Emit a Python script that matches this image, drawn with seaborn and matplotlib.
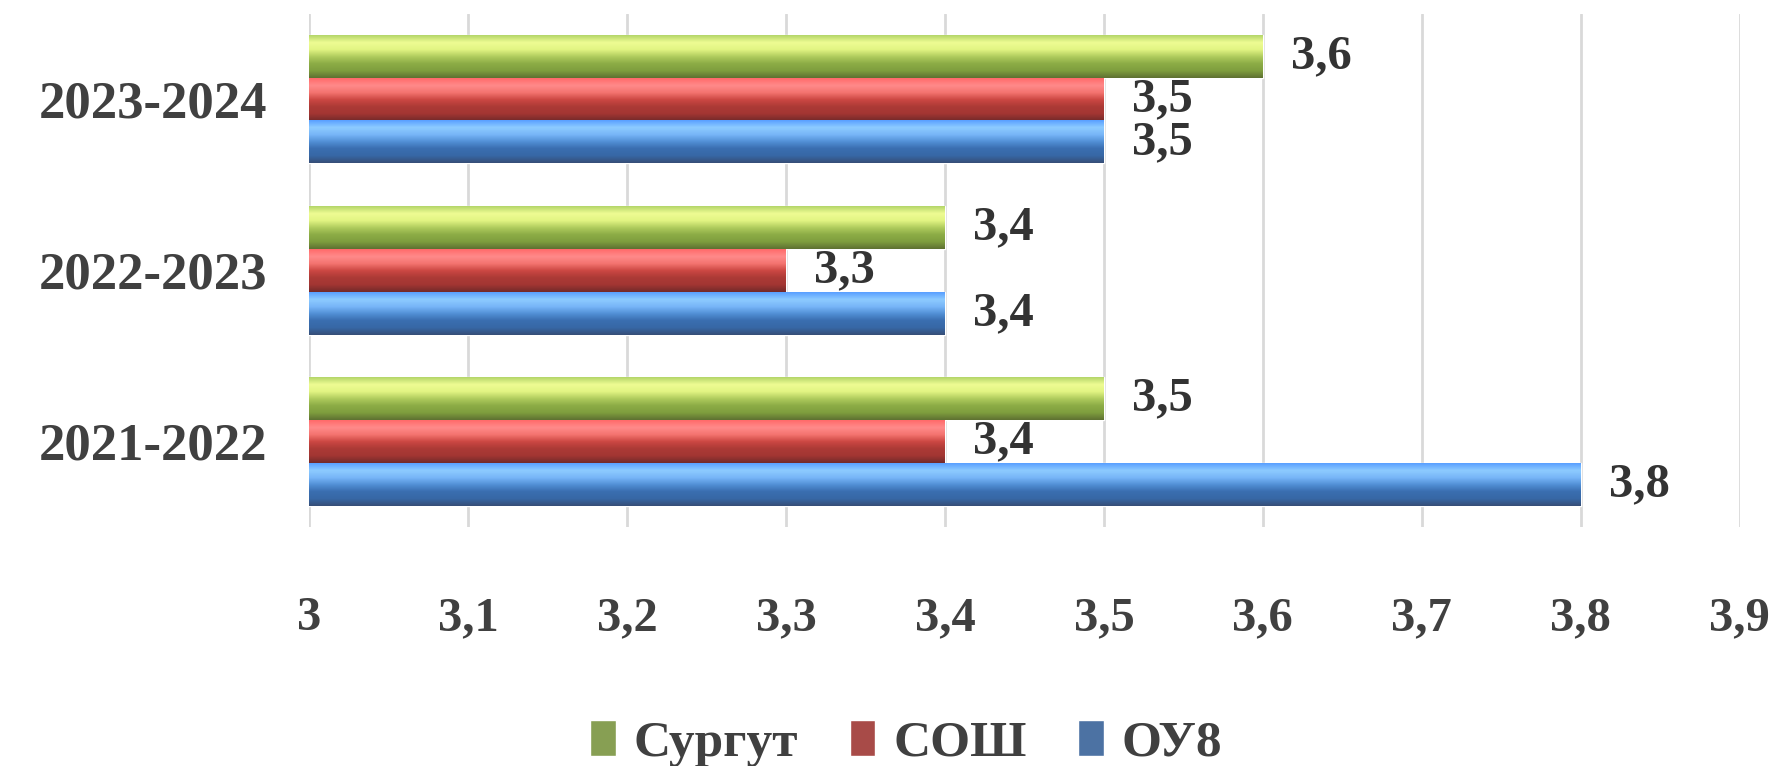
import numpy as np
import pandas as pd
import matplotlib
matplotlib.use("Agg")
import matplotlib.pyplot as plt
import seaborn as sns
from matplotlib.colors import LinearSegmentedColormap

# data
years = ["2023-2024", "2022-2023", "2021-2022"]
series = ["Сургут", "СОШ", "ОУ8"]
surgut = [3.6, 3.4, 3.5]
sosh = [3.5, 3.3, 3.4]
ou8 = [3.5, 3.4, 3.8]
x_ticks = [3.0, 3.1, 3.2, 3.3, 3.4, 3.5, 3.6, 3.7, 3.8, 3.9]
x_tick_labels = ["3", "3,1", "3,2", "3,3", "3,4", "3,5", "3,6", "3,7", "3,8", "3,9"]

palette = {"Сургут": "#8cac46", "СОШ": "#b83c38", "ОУ8": "#3d70b2"}
# top -> bottom shading of the glossy bars
shades = {
    "Сургут": ["#b5d66a", "#eefc93", "#e2f483", "#b0cc5e", "#8cac46", "#7f9e3e", "#5f7232"],
    "СОШ": ["#ff6b6b", "#ff8a8a", "#f47470", "#cc4843", "#ac3a36", "#a33633", "#742a2a"],
    "ОУ8": ["#5aa0ff", "#8dcbff", "#78b6f8", "#5290d6", "#3a6eb0", "#3768a6", "#364f78"],
}

df = pd.DataFrame({
    "year": years * 3,
    "series": [s for s in series for _ in years],
    "value": surgut + sosh + ou8,
})

sns.set_style("white")
plt.rcParams["font.family"] = ["Liberation Serif", "DejaVu Serif"]
plt.rcParams["font.weight"] = "bold"
text_col = "#404040"

fig = plt.figure(figsize=(17.77, 7.66), dpi=100)
ax = fig.add_axes([0.174, 0.312, 0.805, 0.67])

sns.barplot(data=df, x="value", y="year", hue="series", order=years,
            hue_order=series, palette=palette, orient="h", width=0.75,
            gap=0, ax=ax, legend=True, zorder=3)

ax.set_xlim(3.0, 3.9)
ax.set_ylim(2.5, -0.5)

# gradient fill for each bar (clipped to the axes box)
for container, name in zip(ax.containers, series):
    cmap = LinearSegmentedColormap.from_list(name, shades[name])
    grad = np.linspace(0, 1, 64).reshape(-1, 1)
    for patch in container:
        x0, y0 = patch.get_x(), patch.get_y()
        w, h = patch.get_width(), patch.get_height()
        ax.imshow(grad, cmap=cmap, aspect="auto", origin="upper",
                  extent=(x0, x0 + w, y0 + h, y0), zorder=4)
    # value labels
    labels = [f"{v:.1f}".replace(".", ",") for v in container.datavalues]
    ax.bar_label(container, labels=labels, padding=20, fontsize=35,
                 color="#333333", fontweight="bold", zorder=6)

ax.set_xlim(3.0, 3.9)
ax.set_ylim(2.5, -0.5)
ax.set_xticks(x_ticks)
ax.set_xticklabels(x_tick_labels, fontsize=35, color=text_col)
ax.tick_params(axis="x", length=0, pad=50)
ax.tick_params(axis="y", length=0, pad=30, labelsize=38, labelcolor=text_col)
ax.grid(axis="x", color="#d9d9d9", linewidth=2, zorder=0)
ax.set_axisbelow(True)
for s in ax.spines.values():
    s.set_visible(False)
ax.set_xlabel("")
ax.set_ylabel("")

handles, labs = ax.get_legend_handles_labels()
ax.get_legend().remove()
fig.legend(handles, labs, loc="center", bbox_to_anchor=(0.51, 0.03), ncol=3,
           frameon=False, fontsize=37, handlelength=0.5, handleheight=0.7,
           handletextpad=0.35, columnspacing=1.0, labelcolor=text_col)

fig.savefig("out.png", dpi=100)
